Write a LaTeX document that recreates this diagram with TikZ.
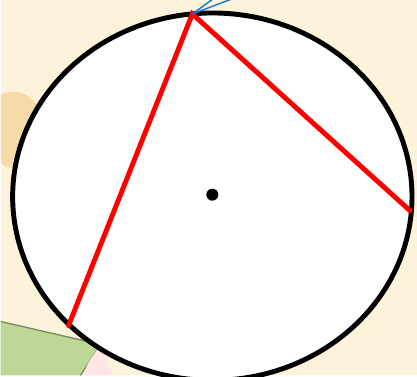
\documentclass[tikz,border=0pt]{standalone}
\usepackage{tikz}
\usetikzlibrary{positioning, calc}
\definecolor{mycream}{RGB}{252,243,218}
\definecolor{myorange}{RGB}{240,190,110}
\definecolor{mygreen}{RGB}{190,215,150}
\definecolor{mydarkgreen}{RGB}{120,140,90}
\definecolor{myblue}{RGB}{30,120,200}
\tikzset{
  rim/.style={draw=black, fill=white, line width=3.7pt},
  chord/.style={draw=red, line width=3.7pt, line cap=round},
  tangent/.style={draw=myblue, line width=1.1pt},
  centre/.style={circle, fill=black, inner sep=0pt, minimum size=9pt}
}
\begin{document}
\begin{tikzpicture}[x=0.75pt, y=-0.75pt]
  % background
  \fill[mycream] (0,0) rectangle (417,376);
  \fill[myorange, opacity=0.45] (0,95) .. controls (30,80) and (55,120) .. (40,150)
    .. controls (25,175) and (0,170) .. (0,160) -- cycle;
  \fill[mygreen] (0,322) -- (100,345) -- (80,376) -- (0,376) -- cycle;
  \draw[mydarkgreen, line width=1pt] (0,322) -- (100,345) -- (80,376);
  \fill[pink!40] (88,363) -- (100,345) -- (112,376) -- (82,376) -- cycle;
  \useasboundingbox (0,0) rectangle (417,376);

  % circle and chords
  \draw[rim] (212,197) ellipse [x radius=200, y radius=184];
  \node[centre] (o) at (212,195) {};
  \coordinate (a) at (192,14);
  \coordinate (b) at (68,326);
  \coordinate (c) at (410,211);
  \coordinate (t1) at (214,-2);
  \coordinate (t2) at (234,-2);

  \draw[chord] (b) -- (a) -- (c);
  \draw[tangent] (a) -- (t1);
  \draw[tangent] (a) -- (t2);
\end{tikzpicture}
\end{document}
